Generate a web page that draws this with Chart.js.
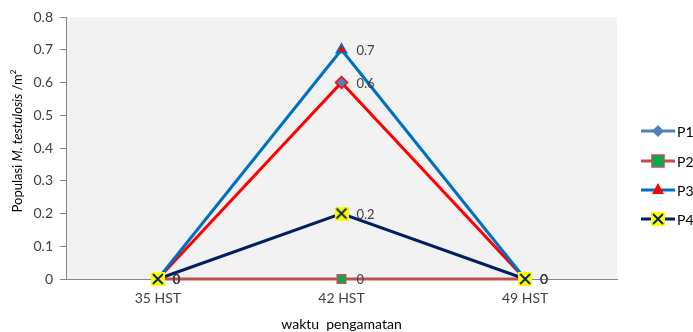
<!DOCTYPE html>
<html>
<head>
<meta charset="utf-8">
<script src="https://cdn.jsdelivr.net/npm/chart.js@4.4.1/dist/chart.umd.min.js"></script>
<style>
  html, body { margin: 0; padding: 0; background: #ffffff; }
  #wrap { width: 693px; height: 332px; position: relative; }
</style>
</head>
<body>
<div id="wrap"><canvas id="c"></canvas></div>
<script>
// Observation times and population per treatment
const categories = ['35 HST', '42 HST', '49 HST'];
const p1 = [0, 0.6, 0];
const p2 = [0, 0, 0];
const p3 = [0, 0.7, 0];
const p4 = [0, 0.2, 0];
const seriesNames = ['P1', 'P2', 'P3', 'P4'];
const yTicks = [0, 0.1, 0.2, 0.3, 0.4, 0.5, 0.6, 0.7, 0.8];

const FONT = 'Lato, "Open Sans", sans-serif';
const TEXT = '#404040';

// yellow box with a navy cross, used as the P4 marker
function crossBox(size) {
  const c = document.createElement('canvas');
  c.width = size; c.height = size;
  const g = c.getContext('2d');
  g.fillStyle = '#ffff00';
  g.fillRect(0, 0, size, size);
  g.strokeStyle = '#002060';
  g.lineWidth = 1.8;
  g.beginPath();
  g.moveTo(2, 2); g.lineTo(size - 2, size - 2);
  g.moveTo(size - 2, 2); g.lineTo(2, size - 2);
  g.stroke();
  return c;
}
const p4Marker = crossBox(14);

const datasets = [
  { label: seriesNames[0], data: p1, borderColor: '#ff0000', borderWidth: 3,
    pointStyle: 'rectRot', pointRadius: 6, pointBackgroundColor: '#4f81bd',
    pointBorderColor: '#ff0000', pointBorderWidth: 1.5, order: 3,
    legendLine: '#4f81bd', legendFill: '#4f81bd', legendStroke: '#4f81bd' },
  { label: seriesNames[1], data: p2, borderColor: '#c0504d', borderWidth: 3,
    pointStyle: 'rect', pointRadius: 6, pointBackgroundColor: '#00b050',
    pointBorderColor: '#c0504d', pointBorderWidth: 1.5, order: 2,
    legendLine: '#c0504d', legendFill: '#00b050', legendStroke: '#c0504d' },
  { label: seriesNames[2], data: p3, borderColor: '#0070c0', borderWidth: 3,
    pointStyle: 'triangle', pointRadius: 6, pointBackgroundColor: '#ff0000',
    pointBorderColor: '#0070c0', pointBorderWidth: 1.5, order: 1,
    legendLine: '#0070c0', legendFill: '#ff0000', legendStroke: '#0070c0' },
  { label: seriesNames[3], data: p4, borderColor: '#002060', borderWidth: 3,
    pointStyle: p4Marker, pointRadius: 7, order: 0,
    legendLine: '#002060', legendFill: null, legendStroke: null }
];
datasets.forEach(d => { d.tension = 0; d.clip = false; d.fill = false; });

// grey plot area
const plotBackground = {
  id: 'plotBackground',
  beforeDraw(chart) {
    const { ctx, chartArea: a } = chart;
    ctx.save();
    ctx.fillStyle = '#f2f2f2';
    ctx.fillRect(a.left, a.top, a.right - a.left, a.bottom - a.top);
    ctx.restore();
  }
};

// value labels beside every point
const valueLabels = {
  id: 'valueLabels',
  afterDatasetsDraw(chart) {
    const { ctx } = chart;
    ctx.save();
    ctx.font = '13px ' + FONT;
    ctx.fillStyle = TEXT;
    ctx.textAlign = 'left';
    ctx.textBaseline = 'middle';
    chart.data.datasets.forEach((ds, i) => {
      const meta = chart.getDatasetMeta(i);
      meta.data.forEach((pt, j) => {
        ctx.fillText(String(ds.data[j]), pt.x + 15, pt.y + 1);
      });
    });
    ctx.restore();
  }
};

// axis titles and legend
const decorations = {
  id: 'decorations',
  afterDraw(chart) {
    const { ctx, chartArea: a } = chart;
    ctx.save();
    // y title with italic species name and superscript
    const parts = [
      { t: 'Populasi ', f: '13px ' + FONT, dy: 0 },
      { t: 'M. testulosis', f: 'italic 13px ' + FONT, dy: 0 },
      { t: ' /m', f: '13px ' + FONT, dy: 0 },
      { t: '2', f: '8px ' + FONT, dy: -5 }
    ];
    let total = 0;
    parts.forEach(p => { ctx.font = p.f; p.w = ctx.measureText(p.t).width; total += p.w; });
    ctx.translate(18, 141);
    ctx.rotate(-Math.PI / 2);
    ctx.fillStyle = '#000000';
    ctx.textBaseline = 'middle';
    ctx.textAlign = 'left';
    let x = -total / 2;
    parts.forEach(p => { ctx.font = p.f; ctx.fillText(p.t, x, p.dy); x += p.w; });
    ctx.setTransform(1, 0, 0, 1, 0, 0);

    // x title
    ctx.font = '14px ' + FONT;
    ctx.fillStyle = '#000000';
    ctx.textAlign = 'center';
    ctx.textBaseline = 'middle';
    ctx.fillText('waktu  pengamatan', (a.left + a.right) / 2, 324);

    // legend
    const rows = [131, 161, 190, 219];
    chart.data.datasets.forEach((ds, i) => {
      const y = rows[i];
      ctx.strokeStyle = ds.legendLine;
      ctx.lineWidth = 3;
      ctx.beginPath();
      ctx.moveTo(641, y); ctx.lineTo(675, y);
      ctx.stroke();
      const cx = 658;
      if (ds.pointStyle === 'rectRot') {
        ctx.fillStyle = ds.legendFill;
        ctx.beginPath();
        ctx.moveTo(cx, y - 6); ctx.lineTo(cx + 6, y); ctx.lineTo(cx, y + 6); ctx.lineTo(cx - 6, y);
        ctx.closePath(); ctx.fill();
      } else if (ds.pointStyle === 'rect') {
        ctx.fillStyle = ds.legendFill;
        ctx.fillRect(cx - 6, y - 6, 12, 12);
        ctx.strokeStyle = ds.legendStroke; ctx.lineWidth = 1.5;
        ctx.strokeRect(cx - 6, y - 6, 12, 12);
      } else if (ds.pointStyle === 'triangle') {
        ctx.fillStyle = ds.legendFill;
        ctx.beginPath();
        ctx.moveTo(cx, y - 7); ctx.lineTo(cx + 6, y + 4); ctx.lineTo(cx - 6, y + 4);
        ctx.closePath(); ctx.fill();
      } else {
        ctx.drawImage(p4Marker, cx - 7, y - 7);
      }
      ctx.font = '14px ' + FONT;
      ctx.fillStyle = '#000000';
      ctx.textAlign = 'left';
      ctx.fillText(ds.label, 677, y + 1);
    });
    ctx.restore();
  }
};

new Chart(document.getElementById('c'), {
  type: 'line',
  data: { labels: categories, datasets },
  options: {
    responsive: true,
    maintainAspectRatio: false,
    animation: false,
    layout: { padding: { top: 17, right: 76, left: 0, bottom: 0 } },
    plugins: { legend: { display: false }, tooltip: { enabled: false } },
    scales: {
      x: {
        offset: true,
        grid: { display: false, drawTicks: false },
        border: { display: true, color: '#868686', width: 1 },
        ticks: { color: TEXT, font: { family: FONT, size: 14 }, padding: 11 },
        afterFit(s) { s.height = 53; }
      },
      y: {
        min: 0, max: 0.8,
        afterBuildTicks(s) { s.ticks = yTicks.map(v => ({ value: v })); },
        grid: { drawOnChartArea: false, drawTicks: true, tickLength: 6, color: '#868686' },
        border: { display: true, color: '#868686', width: 1 },
        ticks: { color: TEXT, font: { family: FONT, size: 14 }, padding: 7,
                 callback: v => String(Math.round(v * 10) / 10) },
        afterFit(s) { s.width = 66; }
      }
    }
  },
  plugins: [plotBackground, valueLabels, decorations]
});
</script>
</body>
</html>
